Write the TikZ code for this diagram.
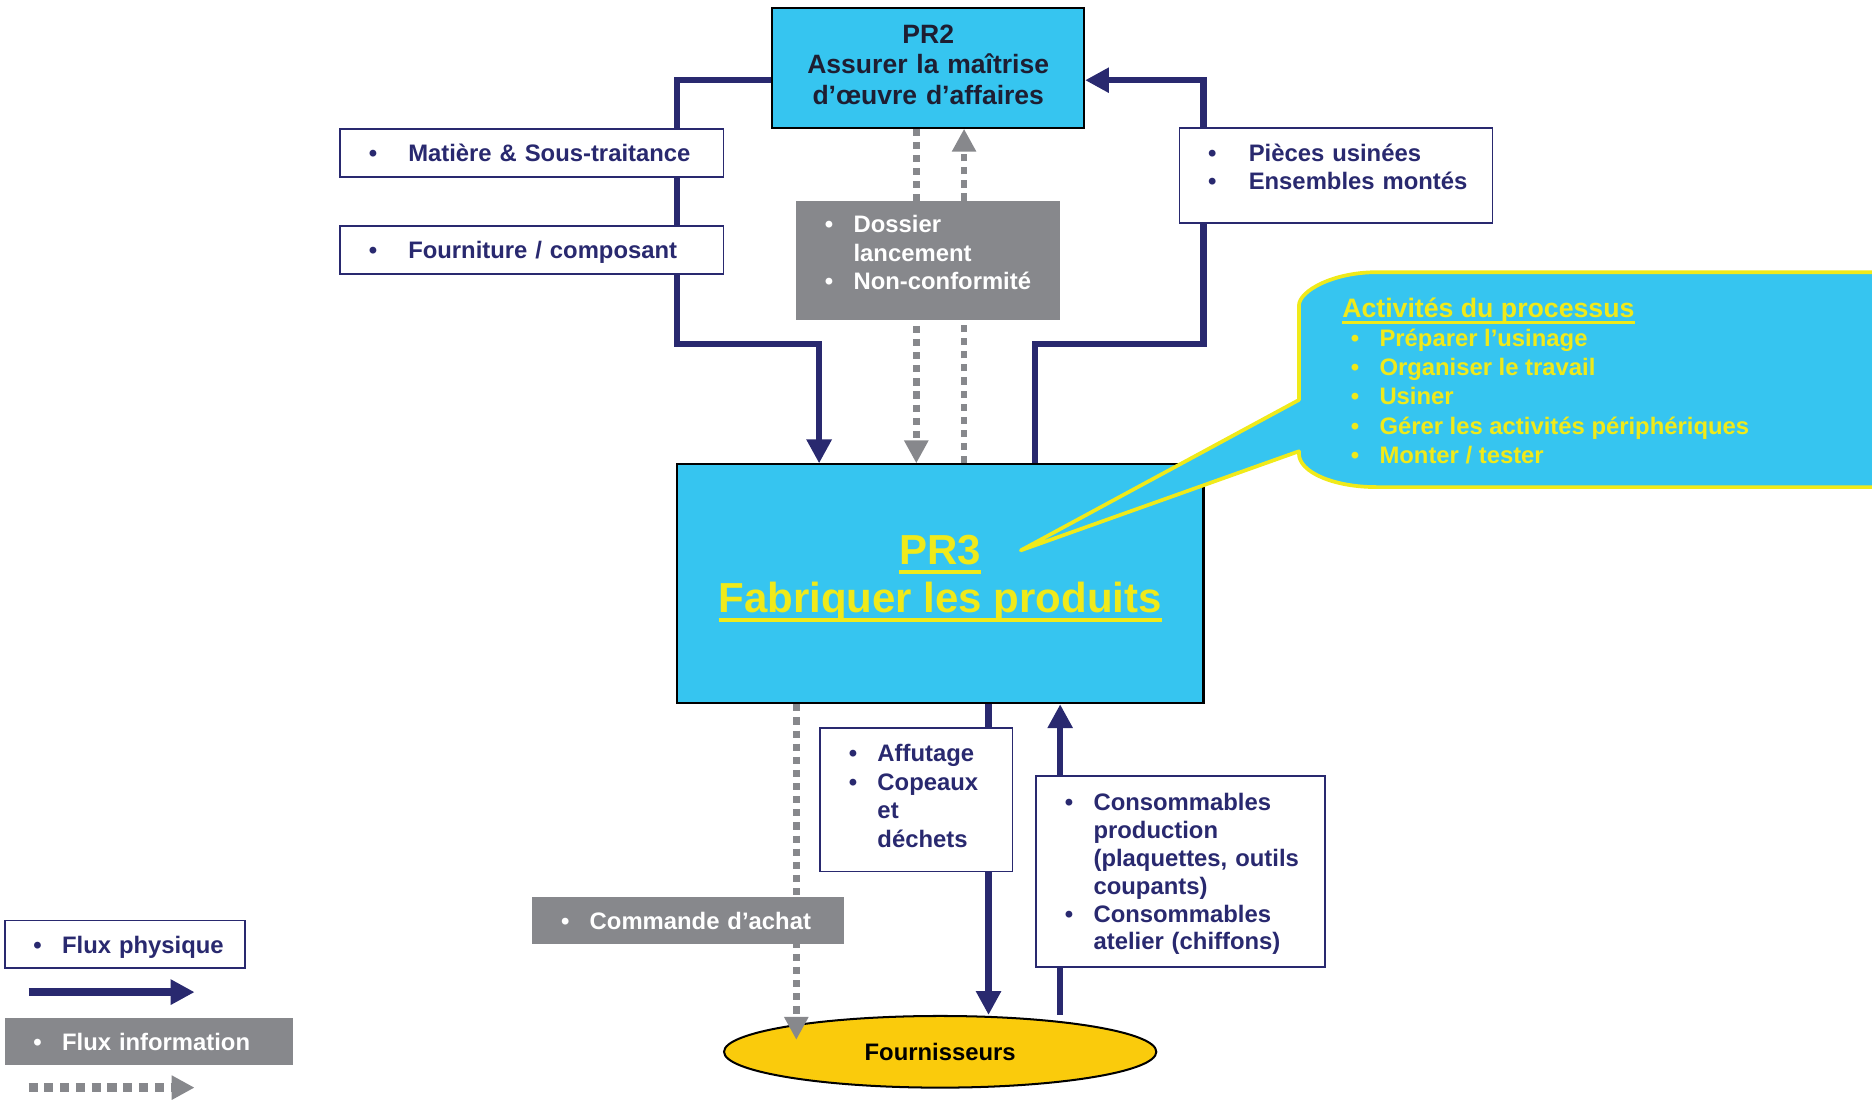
\documentclass[tikz,border=0pt]{standalone}
\usepackage{fontspec}
\setmainfont{Liberation Sans}
\usetikzlibrary{arrows.meta, positioning, shapes.geometric, calc}
\definecolor{proccyan}{HTML}{36C5F0}
\definecolor{flownavy}{HTML}{29296F}
\definecolor{infogray}{HTML}{87888C}
\definecolor{actyellow}{HTML}{F0EA1A}
\definecolor{suppgold}{HTML}{FACB0C}
\definecolor{pr2text}{HTML}{1E1E32}
% bullet line and continuation line (never wrapped)
\newcommand{\bl}[2][0.6cm]{\mbox{\makebox[#1][l]{\textbullet}#2}}
\newcommand{\cn}[2][0.6cm]{\mbox{\hspace*{#1}#2}}
% underline: depth, thickness, text
\newcommand{\uln}[3]{\mbox{\setbox0\hbox{#3}\copy0\kern-\wd0\rule[-#1]{\wd0}{#2}}}

\begin{document}
\begin{tikzpicture}[x=0.025cm, y=-0.025cm,
  proc/.style={rectangle, draw=black, line width=1.2pt, fill=proccyan, inner sep=0pt},
  flowbox/.style={rectangle, draw=flownavy, line width=1pt, fill=white, text=flownavy,
    align=left, inner xsep=0.6cm, inner ysep=0pt, minimum height=1cm,
    text height=10.4pt, text depth=0pt,
    font=\fontsize{14.2pt}{17pt}\selectfont\bfseries},
  infobox/.style={flowbox, draw=none, fill=infogray, text=white},
  phys/.style={draw=flownavy, line width=3.7pt, -{Triangle[length=0.5cm, width=0.5cm]}},
  info/.style={draw=infogray, line width=4pt, dash pattern=on 0.15cm off 0.125cm,
    -{Triangle[length=0.48cm, width=0.48cm]}}]
  \clip (0,0) rectangle (1568,925);

  % processes and supplier
  \node[proc, minimum width=6.525cm, minimum height=2.5cm, text width=6.4cm, align=center,
        text=pr2text, text height=11.4pt, text depth=41.2pt,
        font=\fontsize{15.8pt}{18.3pt}\selectfont\bfseries] (pr2) at (777.5,57)
        {PR2\\Assurer la maîtrise\\d’œuvre d’affaires};
  \node[proc, minimum width=11.025cm, minimum height=5cm] (pr3) at (787.5,489) {};
  \node[align=center, text=actyellow, font=\fontsize{25pt}{28.5pt}\selectfont\bfseries]
        (pr3lbl) at (787.5,484.5) {\uln{5.5pt}{2.2pt}{PR3}\\\uln{5.5pt}{2.2pt}{Fabriquer les produits}};
  \node[ellipse, draw=black, line width=1.2pt, fill=suppgold, minimum width=9.05cm,
        minimum height=1.5cm, font=\fontsize{14.2pt}{16pt}\selectfont\bfseries]
        (four) at (787.5,881) {Fournisseurs};

  % flows
  \draw[phys] ($(pr2.south west)!0.4!(pr2.north west)$) -| (567,288) -| ($(pr3.north west)+(120,0)$);
  \draw[phys] ($(pr3.north west)+(301,0)$) |- (1008,288) |- ($(pr2.south east)!0.4!(pr2.north east)$);
  \draw[info] ($(pr2.south)+(-10,0)$) -- ($(pr3.north)+(-20,0)$);
  \draw[info] ($(pr3.north)+(20,0)$) -- ($(pr2.south)+(30,0)$);
  \draw[phys] ($(pr3.south)+(40.5,0)$) -- ($(four.north)+(40.5,0)$);
  \draw[phys] ($(four.north)+(100.5,0)$) -- ($(pr3.south)+(100.5,0)$);
  \draw[info] ($(pr3.south)+(-120.5,0)$) -- ($(four.center)+(-120.5,-10)$);

  % flow labels
  \node[flowbox, text width=6.825cm] (matiere) at (445.5,128) {\bl[0.825cm]{Matière \& Sous-traitance}};
  \node[flowbox, text width=6.825cm, below=1cm of matiere] (fourn) {\bl[0.825cm]{Fourniture / composant}};
  \node[flowbox, text width=5.35cm, minimum height=2cm, text depth=27.5pt] (pieces) at (1119,147)
        {\bl[0.85cm]{Pièces usinées}\\\bl[0.85cm]{Ensembles montés}};
  \node[infobox, text width=4.325cm, minimum height=2.5cm, text depth=43.1pt] (dossier) at (777.5,218)
        {\bl{Dossier}\\\cn{lancement}\\\bl{Non-conformité}};
  \node[flowbox, text width=2.825cm, minimum height=3cm, text depth=55.9pt] (affut) at (767.5,670)
        {\bl{Affutage}\\\bl{Copeaux}\\\cn{et}\\\cn{déchets}};
  \node[flowbox, text width=4.85cm, minimum height=4cm, text depth=83pt,
        font=\fontsize{14.2pt}{16.6pt}\selectfont\bfseries] (conso) at (989,730)
        {\bl{Consommables}\\\cn{production}\\\cn{(plaquettes, outils}\\\cn{coupants)}\\
         \bl{Consommables}\\\cn{atelier (chiffons)}};
  \node[infobox, text width=5.325cm] (commande) at (576.5,771) {\bl{Commande d’achat}};

  % callout
  \draw[draw=actyellow, fill=proccyan, line width=2.2pt, line join=round]
    (1088,335) -- (855,461) -- (1088,378) -- (1088,380)
    .. controls (1088,395.5) and (1117,408) .. (1153,408) -- (1640,408) -- (1640,228)
    -- (1153,228) .. controls (1117,228) and (1088,243.5) .. (1088,256) -- cycle;
  \node[anchor=north west, align=left, inner sep=0pt, text=actyellow,
        font=\fontsize{14.2pt}{17.4pt}\selectfont\bfseries]
        (acts) at (1124,249)
        {{\fontsize{15.9pt}{17.4pt}\selectfont\uln{3.8pt}{1.6pt}{Activités du processus}}\\
         \cn[0.18cm]{\bl{Préparer l’usinage}}\\
         \cn[0.18cm]{\bl{Organiser le travail}}\\
         \cn[0.18cm]{\bl{Usiner}}\\
         \cn[0.18cm]{\bl{Gérer les activités périphériques}}\\
         \cn[0.18cm]{\bl{Monter / tester}}};

  % legend
  \node[flowbox, text width=3.825cm] (legphys) at (104.5,791) {\bl{Flux physique}};
  \node[infobox, text width=4.825cm, below right=1cm and 0cm of legphys.south west] (leginfo)
        {\bl{Flux information}};
  \coordinate (lp0) at (24,831);
  \coordinate (lp1) at (163,831);
  \draw[phys, line width=5pt] (lp0) -- (lp1);
  \coordinate (li0) at (24,911);
  \coordinate (li1) at (163,911);
  \draw[info, line width=5pt, dash pattern=on 0.19cm off 0.14cm] (li0) -- (li1);
\end{tikzpicture}
\end{document}
